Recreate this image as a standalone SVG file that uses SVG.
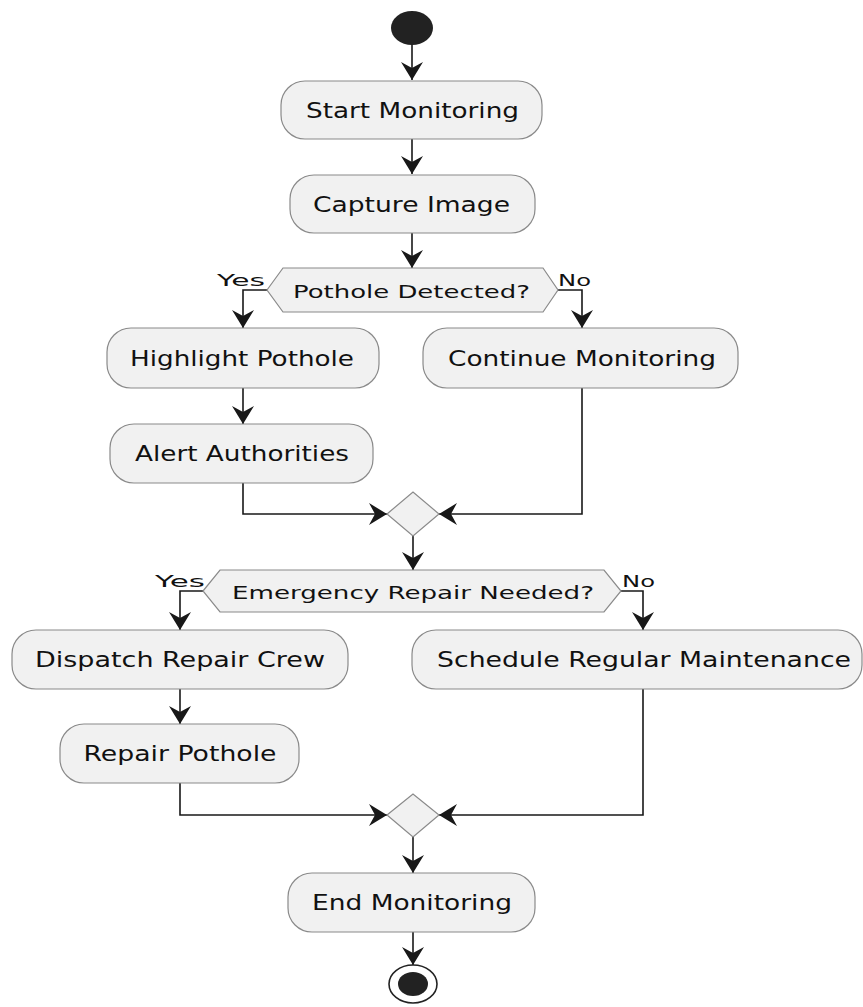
<svg xmlns="http://www.w3.org/2000/svg" width="863" height="1007" viewBox="0 0 863 1007">
<style>
.box{fill:#F1F1F1;stroke:#8a8a8a;stroke-width:1.2}
.t{font-family:"DejaVu Sans","Liberation Sans",sans-serif;font-size:22px;fill:#111;text-anchor:middle}
.d{font-family:"DejaVu Sans","Liberation Sans",sans-serif;font-size:17.5px;fill:#111;text-anchor:middle}
.l{font-family:"DejaVu Sans","Liberation Sans",sans-serif;font-size:16.5px;fill:#111}
.c{fill:none;stroke:#181818;stroke-width:1.6}
</style>
<defs>
<marker id="ah" viewBox="0 0 18 22" refX="18" refY="11" markerWidth="18" markerHeight="22" markerUnits="userSpaceOnUse" orient="auto">
<path d="M0,0 L18,11 L0,22 L6,11 Z" fill="#181818"/>
</marker>
</defs>
<rect width="863" height="1007" fill="#fff"/>
<g id="connectors">
<path class="c" d="M412,45 V80" marker-end="url(#ah)"/>
<path class="c" d="M412,139 V174" marker-end="url(#ah)"/>
<path class="c" d="M412,233 V268" marker-end="url(#ah)"/>
<path class="c" d="M267,290 H243 V328" marker-end="url(#ah)"/>
<path class="c" d="M558,290 H582 V328" marker-end="url(#ah)"/>
<path class="c" d="M243,388 V424" marker-end="url(#ah)"/>
<path class="c" d="M243,483 V514 H387" marker-end="url(#ah)"/>
<path class="c" d="M582,388 V514 H439" marker-end="url(#ah)"/>
<path class="c" d="M413,536 V570" marker-end="url(#ah)"/>
<path class="c" d="M203,591 H180 V630" marker-end="url(#ah)"/>
<path class="c" d="M621,591 H643 V630" marker-end="url(#ah)"/>
<path class="c" d="M180,689 V724" marker-end="url(#ah)"/>
<path class="c" d="M180,783 V815 H387" marker-end="url(#ah)"/>
<path class="c" d="M643,689 V815 H439" marker-end="url(#ah)"/>
<path class="c" d="M413,837 V873" marker-end="url(#ah)"/>
<path class="c" d="M413,932 V965" marker-end="url(#ah)"/>
</g>
<g id="start"><ellipse cx="412" cy="28" rx="21" ry="17" fill="#222"/></g>
<g id="startMonitoring"><rect class="box" x="281" y="81" width="261" height="58" rx="24"/><text class="t" x="412.5" y="118" textLength="213" lengthAdjust="spacingAndGlyphs">Start Monitoring</text></g>
<g id="captureImage"><rect class="box" x="290" y="175" width="245" height="58" rx="24"/><text class="t" x="411.5" y="212" textLength="197" lengthAdjust="spacingAndGlyphs">Capture Image</text></g>
<g id="potholeDetected"><polygon class="box" points="267,290 283,268 543,268 558,290 543,312 283,312"/><text class="d" x="411.5" y="298" textLength="237" lengthAdjust="spacingAndGlyphs">Pothole Detected?</text>
<text class="l" x="217" y="286" textLength="48" lengthAdjust="spacingAndGlyphs">Yes</text><text class="l" x="558" y="286" textLength="33" lengthAdjust="spacingAndGlyphs">No</text></g>
<g id="highlightPothole"><rect class="box" x="107" y="328" width="272" height="60" rx="24"/><text class="t" x="242" y="366" textLength="224" lengthAdjust="spacingAndGlyphs">Highlight Pothole</text></g>
<g id="continueMonitoring"><rect class="box" x="423" y="328" width="315" height="60" rx="24"/><text class="t" x="582" y="366" textLength="268" lengthAdjust="spacingAndGlyphs">Continue Monitoring</text></g>
<g id="alertAuthorities"><rect class="box" x="110" y="424" width="263" height="59" rx="24"/><text class="t" x="242" y="461" textLength="214" lengthAdjust="spacingAndGlyphs">Alert Authorities</text></g>
<g id="merge1"><polygon class="box" points="387,514 413,492 439,514 413,536"/></g>
<g id="emergencyRepair"><polygon class="box" points="203,591 220,570 604,570 621,591 604,612 220,612"/><text class="d" x="413" y="599" textLength="362" lengthAdjust="spacingAndGlyphs">Emergency Repair Needed?</text>
<text class="l" x="155" y="587" textLength="50" lengthAdjust="spacingAndGlyphs">Yes</text><text class="l" x="622" y="587" textLength="33" lengthAdjust="spacingAndGlyphs">No</text></g>
<g id="dispatchRepairCrew"><rect class="box" x="12" y="630" width="336" height="59" rx="24"/><text class="t" x="180" y="667" textLength="290" lengthAdjust="spacingAndGlyphs">Dispatch Repair Crew</text></g>
<g id="scheduleMaintenance"><rect class="box" x="412" y="630" width="450" height="59" rx="24"/><text class="t" x="644" y="667" textLength="414" lengthAdjust="spacingAndGlyphs">Schedule Regular Maintenance</text></g>
<g id="repairPothole"><rect class="box" x="60" y="724" width="239" height="59" rx="24"/><text class="t" x="180" y="761" textLength="193" lengthAdjust="spacingAndGlyphs">Repair Pothole</text></g>
<g id="merge2"><polygon class="box" points="387,815 413,794 439,815 413,837"/></g>
<g id="endMonitoring"><rect class="box" x="288" y="873" width="247" height="59" rx="24"/><text class="t" x="412" y="910" textLength="200" lengthAdjust="spacingAndGlyphs">End Monitoring</text></g>
<g id="end"><ellipse cx="413" cy="984" rx="24" ry="19" fill="none" stroke="#222" stroke-width="1.6"/><ellipse cx="413" cy="984" rx="15" ry="12" fill="#222"/></g>
</svg>
